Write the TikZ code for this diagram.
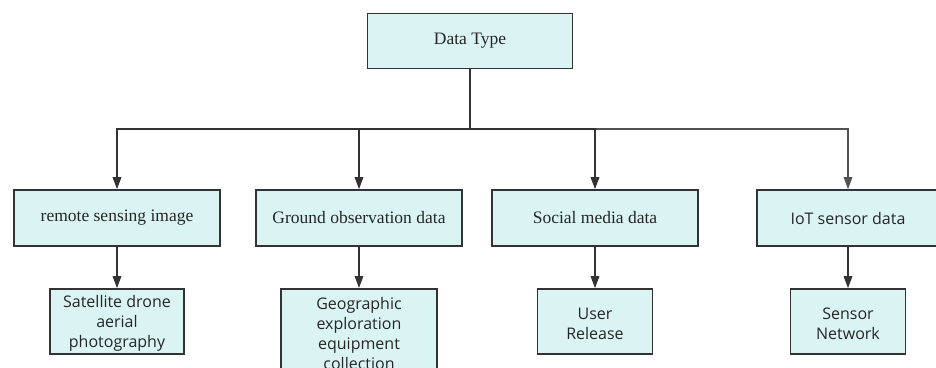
\documentclass[tikz,border=0pt]{standalone}
\usepackage{fontspec}
\setmainfont{Liberation Serif}
\newfontfamily\boxsans{Open Sans}
\usetikzlibrary{arrows.meta}
\definecolor{boxfill}{HTML}{DAF4F4}
\definecolor{boxline}{HTML}{333333}
\definecolor{txt}{HTML}{262626}
\begin{document}
\begin{tikzpicture}[x=1pt,y=-1pt,
  box/.style={draw=boxline,fill=boxfill,line width=1.6pt,inner sep=0pt,text=txt,align=center},
  serifbox/.style={box,font=\fontsize{17.5}{20}\selectfont},
  sansbox/.style={box,font=\boxsans\fontsize{16}{20}\selectfont},
  conn/.style={draw=boxline,line width=1.6pt,-{Triangle[length=12pt,width=8.5pt]}},
  connthin/.style={draw=boxline!85,line width=1.1pt,-{Triangle[length=12pt,width=8.5pt]}},
  link/.style={draw=boxline,line width=1.6pt}]
\useasboundingbox (0,0) rectangle (936,367);
\node[serifbox,minimum width=205pt,minimum height=55pt] (top) at (470,41) {Data Type};
\node[serifbox,minimum width=206pt,minimum height=56pt] (a) at (117,218) {remote sensing image};
\node[serifbox,minimum width=206pt,minimum height=56pt] (b) at (359,218) {Ground observation data};
\node[serifbox,minimum width=206pt,minimum height=56pt] (c) at (595,218) {Social media data};
\node[sansbox,minimum width=182pt,minimum height=56pt] (d) at (848,218) {IoT sensor data};
\node[sansbox,minimum width=134pt,minimum height=65pt] (a1) at (117,321.5) {\rule{0pt}{16pt}Satellite drone\\aerial\\photography};
\node[sansbox,minimum width=156pt,inner ysep=5pt,anchor=north] (b1) at (359,288) {\rule{0pt}{16pt}Geographic\\exploration\\equipment\\collection};
\node[sansbox,minimum width=115pt,minimum height=65pt] (c1) at (595,321.5) {\rule{0pt}{16pt}User\\Release};
\node[sansbox,minimum width=115pt,minimum height=65pt] (d1) at (848,321.5) {\rule{0pt}{16pt}Sensor\\Network};
\coordinate (hub) at (470,129);
\draw[link] (top.south) -- (hub);
\draw[connthin] (hub) -| (d.north);
\draw[conn] (hub) -| (a.north);
\draw[conn] (hub) -| (b.north);
\draw[conn] (hub) -| (c.north);
\draw[conn] (a.south) -- (a1.north);
\draw[conn] (b.south) -- (b1.north);
\draw[conn] (c.south) -- (c1.north);
\draw[conn] (d.south) -- (d1.north);
\end{tikzpicture}
\end{document}
